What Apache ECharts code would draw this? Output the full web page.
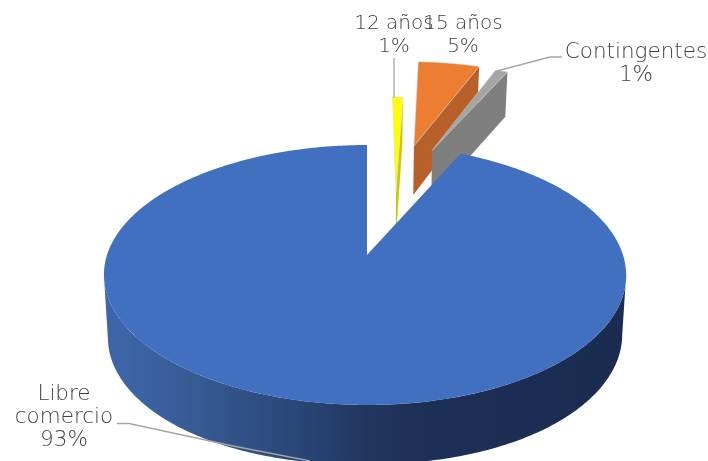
<!DOCTYPE html>
<html><head><meta charset="utf-8">
<style>html,body{margin:0;padding:0;background:#fff}#c{width:708px;height:461px}</style>
<script src="https://cdn.jsdelivr.net/npm/echarts@6/dist/echarts.min.js"></script>
</head><body><div id="c"></div>
<script>
// Data (shares; labels as printed)
const categories = ['12 años', '15 años', 'Contingentes', 'Libre comercio'];
const values = [0.8, 5.0, 1.0, 93.2];
const percentLabels = ['1%', '5%', '1%', '93%'];

// Style / layout of the 3D perspective pie
const topColors = ['#FFFF00', '#ED7D31', '#A5A5A5', '#4270C1'];
const wallColors = ['#C9C900', '#B8602A', '#7F7F7F', null];
const explode = [[0.122, 0.54], [0.21, 0.99], [0.29, 0.944], [0, 0]];
const labelLayout = [
  { x: 394, y: 24, size: 20, wrap: null },
  { x: 463, y: 24, size: 20, wrap: null },
  { x: 636, y: 52, size: 21.5, wrap: null },
  { x: 64, y: 394, size: 21.5, wrap: 'Libre\ncomercio' }
];
const leaders = [
  [[394, 58], [394, 98]],
  null,
  [[497, 71], [550, 57], [562, 57]],
  [[117, 423.5], [129, 423.5], [233, 446], [310, 461]]
];
const CX = 367, CY = 255, A = 258, B = 126.9, P = 0.1538;

function proj(u, v) {
  const w = 1 + P * v;
  return [CX + A * u / w - 2 * u * u, CY - B * v / w];
}
function projLow(u, v) {
  const p = proj(u, v);
  const skew = v < 0 ? (u < 0 ? -8 * u : 4 * u) : 0;
  return [CX + (p[0] - CX) * 0.985, p[1] + 54 - 5 * v + skew];
}
const RAD = Math.PI / 180;
function pt(angleDeg, ex) {
  return [Math.sin(angleDeg * RAD) + ex[0], Math.cos(angleDeg * RAD) + ex[1]];
}
const total = values.reduce((a, b) => a + b, 0);
const starts = [];
values.reduce((acc, v, i) => { starts[i] = acc; return acc + v; }, 0);

function renderItem(params, api) {
  const i = params.dataIndex;
  const a0 = starts[i] / total * 360;
  const a1 = (starts[i] + values[i]) / total * 360;
  const ex = explode[i];
  const children = [];
  const line = leaders[i];
  const isBig = i === 3;
  const arc = [];
  const step = 0.5;
  for (let a = a0; a < a1; a += step) arc.push(proj(...pt(a, ex)));
  arc.push(proj(...pt(a1, ex)));
  if (isBig) {
    const front = [], back = [];
    for (let a = 98.85; a <= 261.2; a += 1) {
      front.push(proj(...pt(a, ex)));
      back.unshift(projLow(...pt(a, ex)));
    }
    children.push({
      type: 'polygon', shape: { points: front.concat(back) },
      style: {
        fill: new echarts.graphic.LinearGradient(104, 0, 626, 0, [
          { offset: 0.05, color: '#3C64A6' },
          { offset: 0.18, color: '#365A92' },
          { offset: 0.375, color: '#2A4576' },
          { offset: 0.506, color: '#21365F' },
          { offset: 0.625, color: '#1C2F55' },
          { offset: 1, color: '#1B2C50' }
        ], true)
      }
    });
  } else {
    const apex = ex;
    const corner = pt(a1, ex);
    children.push({
      type: 'polygon',
      shape: { points: [proj(...apex), proj(...corner), projLow(...corner), projLow(...apex)] },
      style: { fill: wallColors[i] }
    });
  }
  children.push({
    type: 'polygon',
    shape: { points: [proj(...ex)].concat(arc) },
    style: { fill: topColors[i], stroke: isBig ? null : '#D9D9D9', lineWidth: isBig ? 0 : 0.5 }
  });
  if (line) {
    children.push({ type: 'polyline', shape: { points: line }, style: { stroke: '#A6A6A6', lineWidth: 1.3, fill: null } });
  }
  return { type: 'group', children };
}

function renderLabels(params) {
  const i = params.dataIndex;
  const l = labelLayout[i];
  const lines = (l.wrap || categories[i]).split('\n').concat(percentLabels[i]);
  return {
    type: 'group',
    children: lines.map((t, k) => ({
      type: 'text',
      style: {
        x: l.x, y: l.y + k * 23, text: t, align: 'center', verticalAlign: 'middle',
        fill: '#404040', fontFamily: '"DejaVu Sans"', fontWeight: 200, fontSize: l.size
      }
    }))
  };
}

const chart = echarts.init(document.getElementById('c'), null, { renderer: 'canvas' });
const seriesData = categories.map((name, i) => ({ name, value: values[i] }));
chart.setOption({
  animation: false,
  backgroundColor: '#fff',
  series: [
    { type: 'custom', coordinateSystem: 'none', renderItem, data: seriesData, silent: true, clip: false, z: 2 },
    { type: 'custom', coordinateSystem: 'none', renderItem: renderLabels, data: seriesData, silent: true, z: 3 }
  ]
});
</script></body></html>
